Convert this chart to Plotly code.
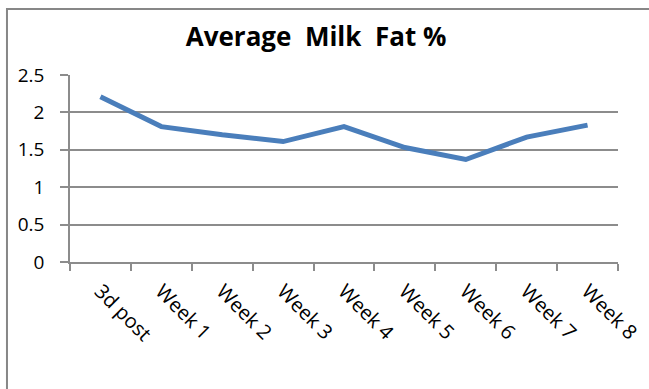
import plotly.graph_objects as go

categories = ["3d post", "Week 1", "Week 2", "Week 3", "Week 4", "Week 5", "Week 6", "Week 7", "Week 8"]
fat_pct = [2.21, 1.81, 1.70, 1.61, 1.81, 1.53, 1.37, 1.67, 1.83]
y_ticks = [0, 0.5, 1, 1.5, 2, 2.5]
y_tick_labels = ["0", "0.5", "1", "1.5", "2", "2.5"]

FONT = "'Open Sans', Lato, sans-serif"
GRID = "#8c8c8c"

fig = go.Figure()
fig.add_trace(go.Scatter(
    x=categories, y=fat_pct, mode="lines",
    line=dict(color="#4a7ebb", width=5),
    showlegend=False, hoverinfo="skip",
))

fig.update_layout(
    width=649, height=389,
    margin=dict(l=70, r=31, t=75, b=127, autoexpand=False),
    paper_bgcolor="white", plot_bgcolor="white",
    title=dict(text="<b>Average  Milk  Fat %</b>", x=0.487, xref="container",
               xanchor="center", y=0.905, yref="container", yanchor="middle",
               font=dict(family=FONT, size=26, color="black")),
    font=dict(family=FONT, size=19, color="black"),
    xaxis=dict(
        type="category", tickangle=45, tickson="boundaries",
        ticks="outside", ticklen=7, tickcolor=GRID, tickwidth=1.5,
        showline=True, linecolor=GRID, linewidth=1.5,
        showgrid=False, range=[-0.5, 8.5], zeroline=False,
        ticklabelstandoff=8, automargin=False,
        tickfont=dict(family=FONT, size=20, color="black"),
    ),
    yaxis=dict(
        range=[0, 2.5], tickvals=y_ticks, ticktext=y_tick_labels,
        ticks="outside", ticklen=8, tickcolor=GRID, tickwidth=1.5,
        showline=True, linecolor=GRID, linewidth=1.5,
        showgrid=True, gridcolor=GRID, gridwidth=1.5, zeroline=False,
        ticklabelstandoff=12, automargin=False,
        tickfont=dict(family=FONT, size=19, color="black"),
    ),
    shapes=[dict(type="rect", xref="paper", yref="paper",
                 x0=-0.115, x1=1.3, y0=-1.5, y1=1.353,
                 line=dict(color="#878787", width=2), layer="below")],
)

fig.write_html("out.html")
